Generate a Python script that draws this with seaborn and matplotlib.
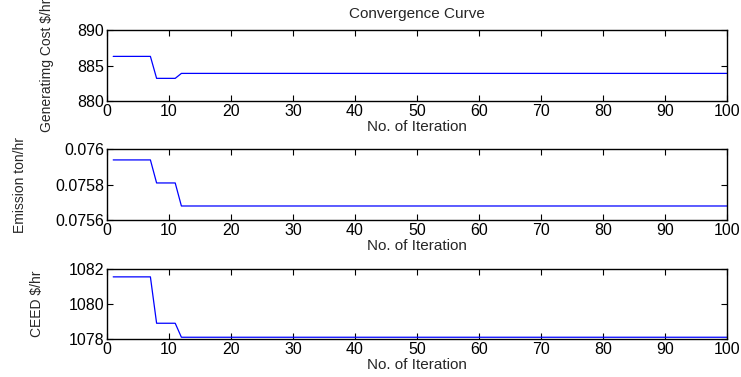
import pandas as pd
import matplotlib
matplotlib.use("Agg")
import matplotlib.pyplot as plt
import seaborn as sns

# =====================================================
# DATA (values only change at a few iterations)
# =====================================================
iterations = [1, 7, 8, 11, 12, 100]
gen_cost = [886.3, 886.3, 883.2, 883.2, 883.9, 883.9]
emission = [0.07594, 0.07594, 0.07581, 0.07581, 0.07568, 0.07568]
ceed = [1081.55, 1081.55, 1078.9, 1078.9, 1078.1, 1078.1]

ylabels = ["Generatimg Cost $/hr", "Emission ton/hr", "CEED $/hr"]
yticks = [
    [880, 885, 890],
    [0.0756, 0.0758, 0.076],
    [1078, 1080, 1082],
]
yticklabels = [
    ["880", "885", "890"],
    ["0.0756", "0.0758", "0.076"],
    ["1078", "1080", "1082"],
]

df = pd.DataFrame({
    "Iteration": iterations,
    "Cost": gen_cost,
    "Emission": emission,
    "CEED": ceed,
})

# =====================================================
# STYLE
# =====================================================
sns.set_style("ticks")
plt.rcParams["font.family"] = ["Liberation Sans", "DejaVu Sans"]
plt.rcParams["xtick.direction"] = "in"
plt.rcParams["ytick.direction"] = "in"

fig = plt.figure(figsize=(7.41, 3.77), dpi=100)

positions = [
    [0.1444, 0.732, 0.8367, 0.188],
    [0.1444, 0.416, 0.8367, 0.188],
    [0.1444, 0.1008, 0.8367, 0.1857],
]
label_pads = [17, 20, 18]

for i, col in enumerate(["Cost", "Emission", "CEED"]):
    ax = fig.add_axes(positions[i])
    sns.lineplot(data=df, x="Iteration", y=col, ax=ax,
                 color="#0000ff", linewidth=0.9)
    ax.set_xlim(0, 100)
    ax.set_ylim(yticks[i][0], yticks[i][-1])
    ax.set_xticks(range(0, 101, 10))
    ax.set_yticks(yticks[i])
    ax.set_yticklabels(yticklabels[i])
    ax.tick_params(axis="both", labelsize=11.5, length=4, width=0.8,
                   top=True, right=True, pad=2, colors="black")
    for s in ax.spines.values():
        s.set_linewidth(1.0)
        s.set_color("black")
    ax.set_xlabel("No. of Iteration", fontsize=11, labelpad=1)
    ax.set_ylabel(ylabels[i], fontsize=10, labelpad=label_pads[i])
    if i == 0:
        ax.set_title("Convergence Curve", fontsize=11, pad=9)

fig.savefig("out.png", dpi=100)
plt.close(fig)
